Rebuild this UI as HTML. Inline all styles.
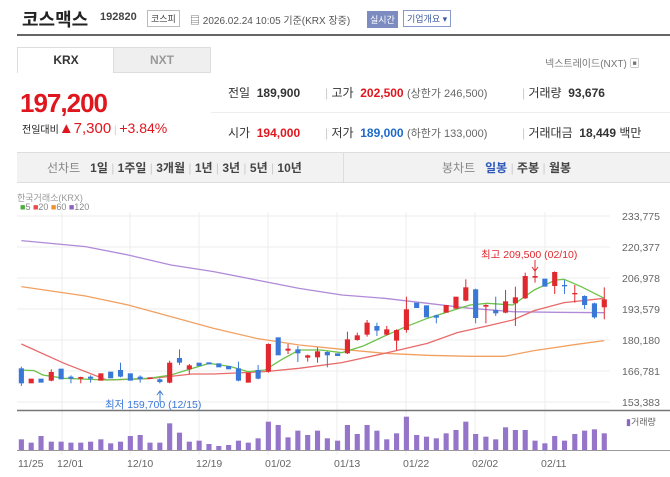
<!DOCTYPE html>
<html><head><meta charset="utf-8"><style>
body{margin:0;width:670px;height:477px;background:#fff;font-family:"Liberation Sans","Noto Sans CJK KR",sans-serif;position:relative;overflow:hidden;color:#333}
.a{position:absolute;white-space:nowrap}
</style></head><body>
<div class="a" style="left:22px;top:6px;font-size:18px;font-weight:bold;color:#222">코스맥스</div>
<div class="a" style="left:100px;top:11px;font-size:11px;font-weight:bold;color:#444">192820</div>
<div class="a" style="left:147px;top:10px;font-size:9px;border:1px solid #bbb;padding:1px 3px;color:#444">코스피</div>
<div class="a" style="left:190px;top:12px;font-size:10px;color:#555">▤ 2026.02.24 10:05 기준(KRX 장중)</div>
<div class="a" style="left:367px;top:11px;font-size:9px;background:#7c8bc0;color:#fff;padding:2px 3px">실시간</div>
<div class="a" style="left:403px;top:10px;font-size:9px;border:1px solid #8899cc;color:#3d5aa0;padding:1px 3px">기업개요 ▾</div>
<div class="a" style="left:17px;top:34px;width:653px;height:2px;background:#666"></div>
<div class="a" style="left:17px;top:47px;width:96px;height:25px;border:1px solid #ddd;border-bottom:none;font-size:12px;font-weight:bold;text-align:center;line-height:25px">KRX</div>
<div class="a" style="left:113px;top:47px;width:96px;height:24px;border:1px solid #ddd;background:#efefef;font-size:12px;font-weight:bold;color:#999;text-align:center;line-height:24px">NXT</div>
<div class="a" style="left:545px;top:55px;font-size:10px;color:#777">넥스트레이드(NXT) ▣</div>
<div class="a" style="left:20px;top:88px;font-size:26px;font-weight:bold;color:#e0161e;letter-spacing:-1px">197,200</div>
<div class="a" style="left:22px;top:120px;font-size:10px;color:#222">전일대비<span style="font-size:15px;color:#e0161e">▲7,300</span> <span style="color:#ccc">|</span> <span style="font-size:14px;color:#e0161e">+3.84%</span></div>
<div class="a" style="left:211px;top:112px;width:459px;height:1px;background:#eee"></div>
<div class="a" style="left:228px;top:84px;font-size:12px">전일 &nbsp;<b>189,900</b></div>
<div class="a" style="left:325px;top:84px;font-size:12px"><span style="color:#ccc">|</span> 고가 &nbsp;<b style="color:#e0161e">202,500</b> <span style="color:#666;font-size:11px">(상한가 246,500)</span></div>
<div class="a" style="left:522px;top:84px;font-size:12px"><span style="color:#ccc">|</span> 거래량 &nbsp;<b>93,676</b></div>
<div class="a" style="left:228px;top:124px;font-size:12px">시가 &nbsp;<b style="color:#e0161e">194,000</b></div>
<div class="a" style="left:325px;top:124px;font-size:12px"><span style="color:#ccc">|</span> 저가 &nbsp;<b style="color:#1e6ac8">189,000</b> <span style="color:#666;font-size:11px">(하한가 133,000)</span></div>
<div class="a" style="left:522px;top:124px;font-size:12px"><span style="color:#ccc">|</span> 거래대금 &nbsp;<b>18,449</b> 백만</div>
<div class="a" style="left:17px;top:152px;width:653px;height:29px;background:#f2f2f2;border-top:1px solid #ddd;border-bottom:1px solid #ddd"></div>
<div class="a" style="left:343px;top:152px;width:1px;height:30px;background:#ddd"></div>
<div class="a" style="left:47px;top:159px;font-size:12px;color:#444"><span style="color:#888">선차트</span> &nbsp; <b>1일</b> <span style="color:#ccc">|</span> <b>1주일</b> <span style="color:#ccc">|</span> <b>3개월</b> <span style="color:#ccc">|</span> <b>1년</b> <span style="color:#ccc">|</span> <b>3년</b> <span style="color:#ccc">|</span> <b>5년</b> <span style="color:#ccc">|</span> <b>10년</b></div>
<div class="a" style="left:442px;top:159px;font-size:12px;color:#444"><span style="color:#888">봉차트</span> &nbsp; <b style="color:#2d58b8">일봉</b> <span style="color:#ccc">|</span> <b>주봉</b> <span style="color:#ccc">|</span> <b>월봉</b></div>
<div class="a" style="left:17px;top:191px;font-size:9px;color:#999">한국거래소(KRX)</div>
<div class="a" style="left:20px;top:202px;font-size:9px;color:#888"><span style="color:#4caf3c">■</span>5 <span style="color:#e84a4a">■</span>20 <span style="color:#f0902a">■</span>60 <span style="color:#9060c0">■</span>120</div>
<svg class="a" style="left:0;top:0" width="670" height="477">
<g stroke="#eee" stroke-width="1">
<line x1="17" y1="216" x2="610" y2="216"/><line x1="17" y1="247" x2="610" y2="247"/><line x1="17" y1="278" x2="610" y2="278"/><line x1="17" y1="309" x2="610" y2="309"/><line x1="17" y1="340" x2="610" y2="340"/><line x1="17" y1="371" x2="610" y2="371"/><line x1="17" y1="402" x2="610" y2="402"/>
<line x1="62" y1="212" x2="62" y2="455"/><line x1="130" y1="212" x2="130" y2="455"/><line x1="199" y1="212" x2="199" y2="455"/><line x1="268" y1="212" x2="268" y2="455"/><line x1="337" y1="212" x2="337" y2="455"/><line x1="406" y1="212" x2="406" y2="455"/><line x1="475" y1="212" x2="475" y2="455"/><line x1="545" y1="212" x2="545" y2="455"/>
</g>
<line x1="17" y1="410.5" x2="670" y2="410.5" stroke="#777" stroke-width="1.5"/>
<line x1="17" y1="450.5" x2="670" y2="450.5" stroke="#999" stroke-width="1"/>
<g font-size="10.5" fill="#666" text-anchor="end">
<text x="660" y="220">233,775</text><text x="660" y="251">220,377</text><text x="660" y="282">206,978</text><text x="660" y="313">193,579</text><text x="660" y="344">180,180</text><text x="660" y="375">166,781</text><text x="660" y="406">153,383</text>
</g>
<g font-size="10.5" fill="#666">
<text x="18" y="467">11/25</text><text x="57" y="467">12/01</text><text x="127" y="467">12/10</text><text x="196" y="467">12/19</text><text x="265" y="467">01/02</text><text x="334" y="467">01/13</text><text x="403" y="467">01/22</text><text x="472" y="467">02/02</text><text x="541" y="467">02/11</text>
</g>
<text x="626" y="425" font-size="9" fill="#666"><tspan fill="#8a68c0">▮</tspan>거래량</text>
<text x="105" y="408" font-size="10.5" fill="#3a78d8">최저 159,700 (12/15)</text>
<text x="481" y="258" font-size="10.5" fill="#e0282e">최고 209,500 (02/10)</text>
<g transform="scale(0.42735,0.33333) translate(0,570)">
<g fill="#9575c9">
<rect x="44" y="748" width="12" height="32"/><rect x="67" y="758" width="12" height="22"/><rect x="90" y="738" width="12" height="42"/><rect x="114" y="755" width="12" height="25"/><rect x="137" y="755" width="12" height="25"/><rect x="160" y="758" width="12" height="22"/><rect x="183" y="758" width="12" height="22"/><rect x="206" y="755" width="12" height="25"/><rect x="230" y="748" width="12" height="32"/><rect x="253" y="760" width="12" height="20"/><rect x="276" y="755" width="12" height="25"/><rect x="299" y="738" width="12" height="42"/><rect x="322" y="735" width="12" height="45"/><rect x="345" y="758" width="12" height="22"/><rect x="368" y="758" width="12" height="22"/><rect x="391" y="700" width="12" height="80"/><rect x="414" y="728" width="12" height="52"/><rect x="437" y="755" width="12" height="25"/><rect x="460" y="752" width="12" height="28"/><rect x="483" y="762" width="12" height="18"/><rect x="506" y="768" width="12" height="12"/><rect x="529" y="765" width="12" height="15"/><rect x="552" y="752" width="12" height="28"/><rect x="575" y="758" width="12" height="22"/><rect x="598" y="745" width="12" height="35"/><rect x="622" y="695" width="12" height="85"/><rect x="645" y="705" width="12" height="75"/><rect x="668" y="742" width="12" height="38"/><rect x="691" y="722" width="12" height="58"/><rect x="714" y="735" width="12" height="45"/><rect x="737" y="722" width="12" height="58"/><rect x="760" y="745" width="12" height="35"/><rect x="784" y="752" width="12" height="28"/><rect x="807" y="705" width="12" height="75"/><rect x="830" y="732" width="12" height="48"/><rect x="853" y="705" width="12" height="75"/><rect x="876" y="722" width="12" height="58"/><rect x="899" y="748" width="12" height="32"/><rect x="922" y="730" width="12" height="50"/><rect x="945" y="680" width="12" height="100"/><rect x="969" y="735" width="12" height="45"/><rect x="992" y="740" width="12" height="40"/><rect x="1015" y="745" width="12" height="35"/><rect x="1038" y="730" width="12" height="50"/><rect x="1061" y="720" width="12" height="60"/><rect x="1084" y="695" width="12" height="85"/><rect x="1107" y="732" width="12" height="48"/><rect x="1131" y="740" width="12" height="40"/><rect x="1154" y="748" width="12" height="32"/><rect x="1177" y="712" width="12" height="68"/><rect x="1200" y="720" width="12" height="60"/><rect x="1223" y="720" width="12" height="60"/><rect x="1246" y="752" width="12" height="28"/><rect x="1269" y="760" width="12" height="20"/><rect x="1292" y="738" width="12" height="42"/><rect x="1315" y="752" width="12" height="28"/><rect x="1339" y="732" width="12" height="48"/><rect x="1362" y="722" width="12" height="58"/><rect x="1385" y="718" width="12" height="62"/><rect x="1408" y="730" width="12" height="50"/>
</g>
<g fill="none" stroke-width="1.3" vector-effect="non-scaling-stroke">
<polyline vector-effect="non-scaling-stroke" stroke="#b08ad8" points="50,152 200,170 300,195 400,225 500,245 600,270 700,295 800,315 900,325 1000,340 1100,355 1200,365 1300,367 1414,368"/>
<polyline vector-effect="non-scaling-stroke" stroke="#f2a060" points="50,290 200,318 300,345 400,380 500,415 600,445 700,465 800,478 900,490 1000,496 1100,499 1180,499 1250,482 1350,463 1414,452"/>
<polyline vector-effect="non-scaling-stroke" stroke="#e86a6a" points="50,462 150,520 250,570 350,566 450,552 500,552 620,545 700,535 800,518 900,490 1000,460 1070,428 1150,405 1200,390 1250,362 1320,338 1414,325"/>
<polyline vector-effect="non-scaling-stroke" stroke="#6cc24a" points="50,540 80,542 100,555 150,565 250,570 350,565 400,555 450,535 490,520 540,530 580,545 620,540 660,508 700,480 750,480 800,488 850,468 900,438 950,410 1000,385 1050,365 1100,345 1140,340 1200,345 1250,300 1300,270 1320,268 1360,290 1414,325"/>
</g>
<g stroke="#3a78d8" vector-effect="non-scaling-stroke">
<line vector-effect="non-scaling-stroke" x1="50" y1="530" x2="50" y2="588"/><line vector-effect="non-scaling-stroke" x1="166" y1="556" x2="166" y2="580"/><line vector-effect="non-scaling-stroke" x1="212" y1="556" x2="212" y2="578"/><line vector-effect="non-scaling-stroke" x1="282" y1="518" x2="282" y2="562"/><line vector-effect="non-scaling-stroke" x1="328" y1="556" x2="328" y2="578"/><line vector-effect="non-scaling-stroke" x1="374" y1="565" x2="374" y2="580"/><line vector-effect="non-scaling-stroke" x1="420" y1="478" x2="420" y2="525"/><line vector-effect="non-scaling-stroke" x1="558" y1="515" x2="558" y2="574"/><line vector-effect="non-scaling-stroke" x1="604" y1="525" x2="604" y2="568"/><line vector-effect="non-scaling-stroke" x1="697" y1="468" x2="697" y2="516"/><line vector-effect="non-scaling-stroke" x1="766" y1="484" x2="766" y2="532"/><line vector-effect="non-scaling-stroke" x1="882" y1="398" x2="882" y2="438"/><line vector-effect="non-scaling-stroke" x1="1021" y1="374" x2="1021" y2="400"/><line vector-effect="non-scaling-stroke" x1="1113" y1="296" x2="1113" y2="400"/><line vector-effect="non-scaling-stroke" x1="1160" y1="320" x2="1160" y2="378"/><line vector-effect="non-scaling-stroke" x1="1321" y1="270" x2="1321" y2="312"/><line vector-effect="non-scaling-stroke" x1="1368" y1="316" x2="1368" y2="357"/><line vector-effect="non-scaling-stroke" x1="1391" y1="338" x2="1391" y2="386"/>
</g>
<g stroke="#e0282e">
<line vector-effect="non-scaling-stroke" x1="120" y1="538" x2="120" y2="574"/><line vector-effect="non-scaling-stroke" x1="189" y1="560" x2="189" y2="580"/><line vector-effect="non-scaling-stroke" x1="397" y1="512" x2="397" y2="580"/><line vector-effect="non-scaling-stroke" x1="443" y1="522" x2="443" y2="552"/><line vector-effect="non-scaling-stroke" x1="628" y1="460" x2="628" y2="548"/><line vector-effect="non-scaling-stroke" x1="674" y1="462" x2="674" y2="492"/><line vector-effect="non-scaling-stroke" x1="720" y1="494" x2="720" y2="515"/><line vector-effect="non-scaling-stroke" x1="743" y1="472" x2="743" y2="518"/><line vector-effect="non-scaling-stroke" x1="813" y1="425" x2="813" y2="492"/><line vector-effect="non-scaling-stroke" x1="836" y1="428" x2="836" y2="452"/><line vector-effect="non-scaling-stroke" x1="859" y1="390" x2="859" y2="440"/><line vector-effect="non-scaling-stroke" x1="905" y1="408" x2="905" y2="436"/><line vector-effect="non-scaling-stroke" x1="928" y1="418" x2="928" y2="480"/><line vector-effect="non-scaling-stroke" x1="951" y1="320" x2="951" y2="428"/><line vector-effect="non-scaling-stroke" x1="1090" y1="268" x2="1090" y2="334"/><line vector-effect="non-scaling-stroke" x1="1137" y1="343" x2="1137" y2="400"/><line vector-effect="non-scaling-stroke" x1="1183" y1="300" x2="1183" y2="370"/><line vector-effect="non-scaling-stroke" x1="1206" y1="290" x2="1206" y2="408"/><line vector-effect="non-scaling-stroke" x1="1229" y1="248" x2="1229" y2="327"/><line vector-effect="non-scaling-stroke" x1="1252" y1="242" x2="1252" y2="278"/><line vector-effect="non-scaling-stroke" x1="1298" y1="244" x2="1298" y2="312"/><line vector-effect="non-scaling-stroke" x1="1345" y1="285" x2="1345" y2="338"/><line vector-effect="non-scaling-stroke" x1="1414" y1="292" x2="1414" y2="388"/>
</g>
<g fill="#3a78d8">
<rect x="44" y="535" width="12" height="45"/><rect x="90" y="566" width="12" height="12"/><rect x="137" y="536" width="12" height="32"/><rect x="160" y="560" width="12" height="6"/><rect x="206" y="560" width="12" height="6"/><rect x="253" y="545" width="12" height="20"/><rect x="276" y="540" width="12" height="20"/><rect x="299" y="550" width="12" height="22"/><rect x="322" y="560" width="12" height="8"/><rect x="368" y="568" width="12" height="8"/><rect x="414" y="504" width="12" height="14"/><rect x="460" y="518" width="12" height="10"/><rect x="483" y="517" width="12" height="6"/><rect x="506" y="520" width="12" height="12"/><rect x="529" y="528" width="12" height="10"/><rect x="552" y="535" width="12" height="37"/><rect x="598" y="540" width="12" height="26"/><rect x="645" y="442" width="12" height="54"/><rect x="691" y="478" width="12" height="12"/><rect x="760" y="486" width="12" height="10"/><rect x="784" y="490" width="12" height="8"/><rect x="876" y="408" width="12" height="14"/><rect x="969" y="338" width="12" height="16"/><rect x="992" y="346" width="12" height="36"/><rect x="1015" y="376" width="12" height="7"/><rect x="1107" y="298" width="12" height="86"/><rect x="1154" y="360" width="12" height="10"/><rect x="1269" y="266" width="12" height="24"/><rect x="1315" y="285" width="12" height="4"/><rect x="1362" y="318" width="12" height="27"/><rect x="1385" y="340" width="12" height="42"/>
</g>
<g fill="#e0282e">
<rect x="67" y="566" width="12" height="14"/><rect x="114" y="546" width="12" height="26"/><rect x="183" y="561" width="12" height="5"/><rect x="230" y="550" width="12" height="22"/><rect x="345" y="562" width="12" height="5"/><rect x="391" y="518" width="12" height="60"/><rect x="437" y="526" width="12" height="12"/><rect x="575" y="548" width="12" height="30"/><rect x="622" y="462" width="12" height="83"/><rect x="668" y="476" width="12" height="6"/><rect x="714" y="496" width="12" height="7"/><rect x="737" y="484" width="12" height="18"/><rect x="807" y="448" width="12" height="42"/><rect x="830" y="436" width="12" height="14"/><rect x="853" y="398" width="12" height="36"/><rect x="899" y="418" width="12" height="16"/><rect x="922" y="420" width="12" height="32"/><rect x="945" y="358" width="12" height="62"/><rect x="1038" y="345" width="12" height="23"/><rect x="1061" y="320" width="12" height="36"/><rect x="1084" y="292" width="12" height="40"/><rect x="1131" y="345" width="12" height="5"/><rect x="1177" y="334" width="12" height="34"/><rect x="1200" y="322" width="12" height="18"/><rect x="1223" y="258" width="12" height="67"/><rect x="1246" y="258" width="12" height="5"/><rect x="1292" y="246" width="12" height="42"/><rect x="1339" y="309" width="12" height="4"/><rect x="1408" y="328" width="12" height="24"/>
</g>
</g>
<g stroke-width="1" fill="none">
<path d="M160 402 V392 M157 395 L160 391 L163 395" stroke="#3a78d8"/>
<path d="M535 260 V270 M532 267 L535 271 L538 267" stroke="#e0282e"/>
</g>
</svg>
</body></html>
